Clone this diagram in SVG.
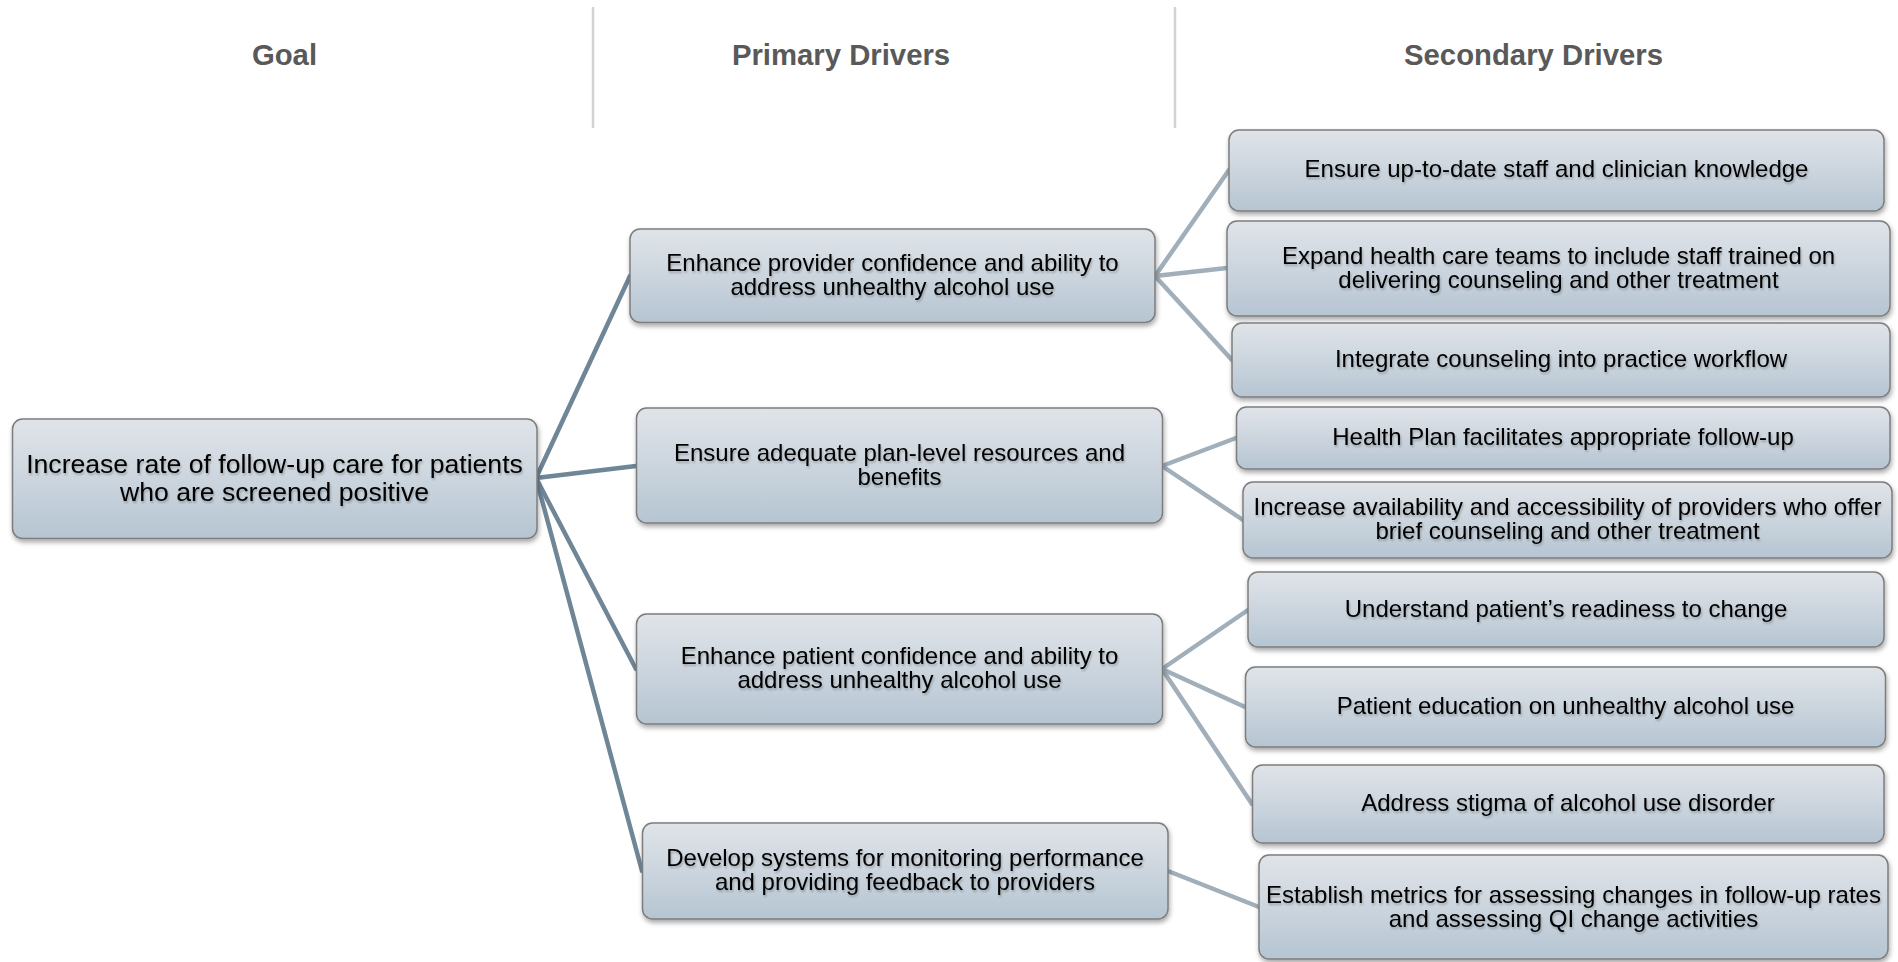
<svg xmlns="http://www.w3.org/2000/svg" width="1898" height="962" viewBox="0 0 1898 962">
<defs>
<linearGradient id="boxFill" x1="0" y1="0" x2="0" y2="1">
<stop offset="0" stop-color="#e0e4e9"/>
<stop offset="0.5" stop-color="#ccd5de"/>
<stop offset="1" stop-color="#b5c5d2"/>
</linearGradient>
<filter id="shadow" x="-5%" y="-10%" width="110%" height="130%">
<feGaussianBlur in="SourceAlpha" stdDeviation="2.5"/>
<feOffset dx="1" dy="3" result="b"/>
<feComponentTransfer><feFuncA type="linear" slope="0.35"/></feComponentTransfer>
<feMerge><feMergeNode/><feMergeNode in="SourceGraphic"/></feMerge>
</filter>
<filter id="tshadow" x="-5%" y="-20%" width="110%" height="150%">
<feGaussianBlur in="SourceAlpha" stdDeviation="1.2"/>
<feOffset dx="1" dy="2" result="b"/>
<feComponentTransfer><feFuncA type="linear" slope="0.25"/></feComponentTransfer>
<feMerge><feMergeNode/><feMergeNode in="SourceGraphic"/></feMerge>
</filter>
</defs>
<style>
.hdr{font-family:"Liberation Sans",Arial,sans-serif;font-weight:bold;font-size:29.3px;fill:#595959;text-anchor:middle}
.div{stroke:#d2d2d2;stroke-width:2.5}
.box{fill:url(#boxFill);stroke:#7d7d7d;stroke-width:1.5;filter:url(#shadow)}
.t{font-family:"Liberation Sans",Arial,sans-serif;font-size:24px;fill:#000;text-anchor:middle;filter:url(#tshadow)}
.tg{font-size:26.6px}
.c1{stroke:#6f8697;stroke-width:4.5;fill:none;stroke-linecap:round}
.c2{stroke:#a1afba;stroke-width:4.5;fill:none;stroke-linecap:round}
</style>
<rect width="1898" height="962" fill="#ffffff"/>
<g id="headers">
<text class="hdr" x="284.5" y="65">Goal</text>
<text class="hdr" x="841" y="65">Primary Drivers</text>
<text class="hdr" x="1533.5" y="65">Secondary Drivers</text>
<line class="div" x1="593" y1="7" x2="593" y2="128"/>
<line class="div" x1="1175" y1="7" x2="1175" y2="128"/>
</g>
<g id="connectors">
<line class="c1" x1="536" y1="478" x2="630" y2="276"/>
<line class="c1" x1="536" y1="478" x2="636" y2="466"/>
<line class="c1" x1="536" y1="478" x2="636" y2="669"/>
<line class="c1" x1="536" y1="478" x2="642" y2="871"/>
<line class="c2" x1="1155" y1="276" x2="1229" y2="170"/>
<line class="c2" x1="1155" y1="276" x2="1227" y2="268"/>
<line class="c2" x1="1155" y1="276" x2="1232" y2="360"/>
<line class="c2" x1="1162" y1="466" x2="1236" y2="438"/>
<line class="c2" x1="1162" y1="466" x2="1243" y2="520"/>
<line class="c2" x1="1162" y1="669" x2="1248" y2="610"/>
<line class="c2" x1="1162" y1="669" x2="1245" y2="707"/>
<line class="c2" x1="1162" y1="669" x2="1252" y2="804"/>
<line class="c2" x1="1168" y1="871" x2="1259" y2="907"/>
</g>
<g id="goal">
<rect class="box" x="12.5" y="419" width="524.5" height="119.5" rx="10"/>
<text class="t tg" x="274.5" y="473">Increase rate of follow-up care for patients</text>
<text class="t tg" x="274.5" y="501">who are screened positive</text>
</g>
<g id="p1">
<rect class="box" x="630" y="229" width="525" height="93.5" rx="10"/>
<text class="t" x="892.5" y="271">Enhance provider confidence and ability to</text>
<text class="t" x="892.5" y="295">address unhealthy alcohol use</text>
</g>
<g id="p2">
<rect class="box" x="636.5" y="408" width="526" height="115" rx="10"/>
<text class="t" x="899.5" y="461">Ensure adequate plan-level resources and</text>
<text class="t" x="899.5" y="485">benefits</text>
</g>
<g id="p3">
<rect class="box" x="636.5" y="614" width="526" height="110" rx="10"/>
<text class="t" x="899.5" y="664">Enhance patient confidence and ability to</text>
<text class="t" x="899.5" y="688">address unhealthy alcohol use</text>
</g>
<g id="p4">
<rect class="box" x="642.5" y="823" width="525.5" height="96" rx="10"/>
<text class="t" x="905" y="866">Develop systems for monitoring performance</text>
<text class="t" x="905" y="890">and providing feedback to providers</text>
</g>
<g id="s1">
<rect class="box" x="1229" y="130" width="655" height="81" rx="10"/>
<text class="t" x="1556.5" y="177">Ensure up-to-date staff and clinician knowledge</text>
</g>
<g id="s2">
<rect class="box" x="1227" y="221" width="663" height="95" rx="10"/>
<text class="t" x="1558.5" y="264">Expand health care teams to include staff trained on</text>
<text class="t" x="1558.5" y="288">delivering counseling and other treatment</text>
</g>
<g id="s3">
<rect class="box" x="1232" y="323" width="658" height="74" rx="10"/>
<text class="t" x="1561" y="367">Integrate counseling into practice workflow</text>
</g>
<g id="s4">
<rect class="box" x="1236.5" y="407" width="653.5" height="62" rx="10"/>
<text class="t" x="1563" y="445">Health Plan facilitates appropriate follow-up</text>
</g>
<g id="s5">
<rect class="box" x="1243" y="482" width="649" height="76" rx="10"/>
<text class="t" x="1567.5" y="515">Increase availability and accessibility of providers who offer</text>
<text class="t" x="1567.5" y="539">brief counseling and other treatment</text>
</g>
<g id="s6">
<rect class="box" x="1248" y="572" width="636" height="75" rx="10"/>
<text class="t" x="1566" y="616.5">Understand patient’s readiness to change</text>
</g>
<g id="s7">
<rect class="box" x="1245.5" y="667" width="640" height="80" rx="10"/>
<text class="t" x="1565.5" y="714">Patient education on unhealthy alcohol use</text>
</g>
<g id="s8">
<rect class="box" x="1252.5" y="765" width="631.5" height="78" rx="10"/>
<text class="t" x="1568" y="811">Address stigma of alcohol use disorder</text>
</g>
<g id="s9">
<rect class="box" x="1259" y="855" width="629" height="104" rx="10"/>
<text class="t" x="1573.5" y="903">Establish metrics for assessing changes in follow-up rates</text>
<text class="t" x="1573.5" y="927">and assessing QI change activities</text>
</g>
</svg>
